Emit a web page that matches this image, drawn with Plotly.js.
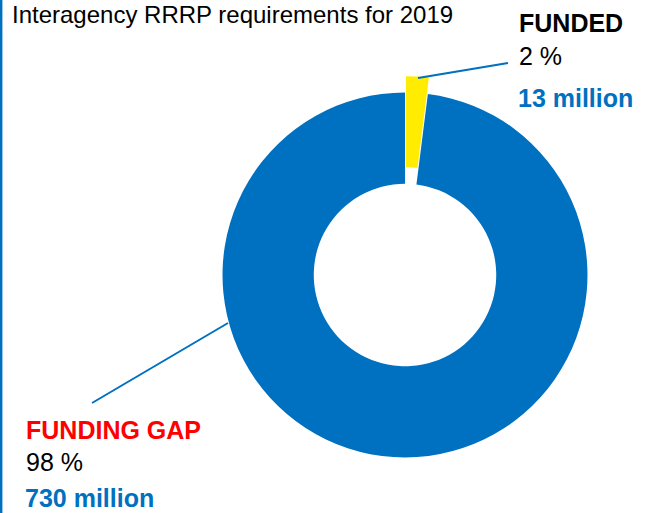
<!DOCTYPE html>
<html>
<head>
<meta charset="utf-8">
<script src="https://cdn.plot.ly/plotly-3.0.1.min.js"></script>
<style>
  html, body { margin: 0; padding: 0; background: #ffffff; }
  #chart { width: 656px; height: 513px; }
</style>
</head>
<body>
<div id="chart"></div>
<script>
// ---- data ----
const chartTitle = 'Interagency RRRP requirements for 2019';
const categories = ['FUNDED', 'FUNDING GAP'];
const percents = [2, 98];
const amountsMillion = [13, 730];
const sliceColors = ['#FFEC00', '#0070C0'];
const categoryColors = ['#000000', '#FF0000'];

const W = 656, H = 513;
const px = x => x / W;
const py = y => 1 - y / H;
const BLUE = '#0070C0';
const FONT = 'Arial, "Liberation Sans", sans-serif';

const trace = {
  type: 'pie',
  labels: categories,
  values: percents,
  marker: { colors: sliceColors, line: { width: 0 } },
  hole: 0.5,
  pull: [0.09, 0],
  sort: false,
  direction: 'clockwise',
  rotation: 0,
  textinfo: 'none',
  hoverinfo: 'label+percent',
  showlegend: false,
  domain: { x: [px(405 - 198.9), px(405 + 198.9)], y: [py(275 + 198.9), py(275 - 198.9)] }
};

// label block positions (pixel anchors), one per category
const labelPos = [
  { x: 519, yName: 23, yPct: 56, yAmt: 98 },
  { x: 26, yName: 430, yPct: 462, yAmt: 502 }
];

const annotations = [{
  xref: 'paper', yref: 'paper', x: px(11), y: 1,
  xanchor: 'left', yanchor: 'top', showarrow: false, borderpad: 0,
  text: chartTitle, font: { family: FONT, size: 24, color: '#000000' }
}];

categories.forEach((c, i) => {
  const p = labelPos[i];
  const lblSize = 25;
  annotations.push({
    xref: 'paper', yref: 'paper', x: px(p.x - 2), y: py(p.yName),
    xanchor: 'left', yanchor: 'middle', showarrow: false,
    text: '<b>' + c + '</b>', font: { family: FONT, size: lblSize, color: categoryColors[i] }
  });
  annotations.push({
    xref: 'paper', yref: 'paper', x: px(p.x - 2), y: py(p.yPct),
    xanchor: 'left', yanchor: 'middle', showarrow: false,
    text: percents[i] + ' %', font: { family: FONT, size: lblSize, color: '#000000' }
  });
  const last = (i === categories.length - 1);
  annotations.push({
    xref: 'paper', yref: 'paper', x: px(p.x - 2), y: last ? 0 : py(p.yAmt),
    xanchor: 'left', yanchor: last ? 'bottom' : 'middle', showarrow: false, borderpad: 0,
    text: '<b>' + amountsMillion[i] + ' million</b>', font: { family: FONT, size: lblSize, color: BLUE }
  });
});

const shapes = [
  { type: 'line', xref: 'paper', yref: 'paper', x0: px(1.2), x1: px(1.2), y0: 0, y1: 1,
    line: { color: BLUE, width: 2.4 } },
  { type: 'line', xref: 'paper', yref: 'paper', x0: px(418), y0: py(78), x1: px(508), y1: py(63),
    line: { color: BLUE, width: 2 } },
  { type: 'line', xref: 'paper', yref: 'paper', x0: px(228), y0: py(323), x1: px(92), y1: py(403),
    line: { color: BLUE, width: 2 } }
];

const layout = {
  width: W, height: H,
  margin: { l: 0, r: 0, t: 0, b: 0, pad: 0 },
  paper_bgcolor: '#ffffff',
  plot_bgcolor: '#ffffff',
  showlegend: false,
  annotations: annotations,
  shapes: shapes,
  font: { family: FONT }
};

Plotly.newPlot('chart', [trace], layout, { displayModeBar: false, staticPlot: true });
</script>
</body>
</html>
